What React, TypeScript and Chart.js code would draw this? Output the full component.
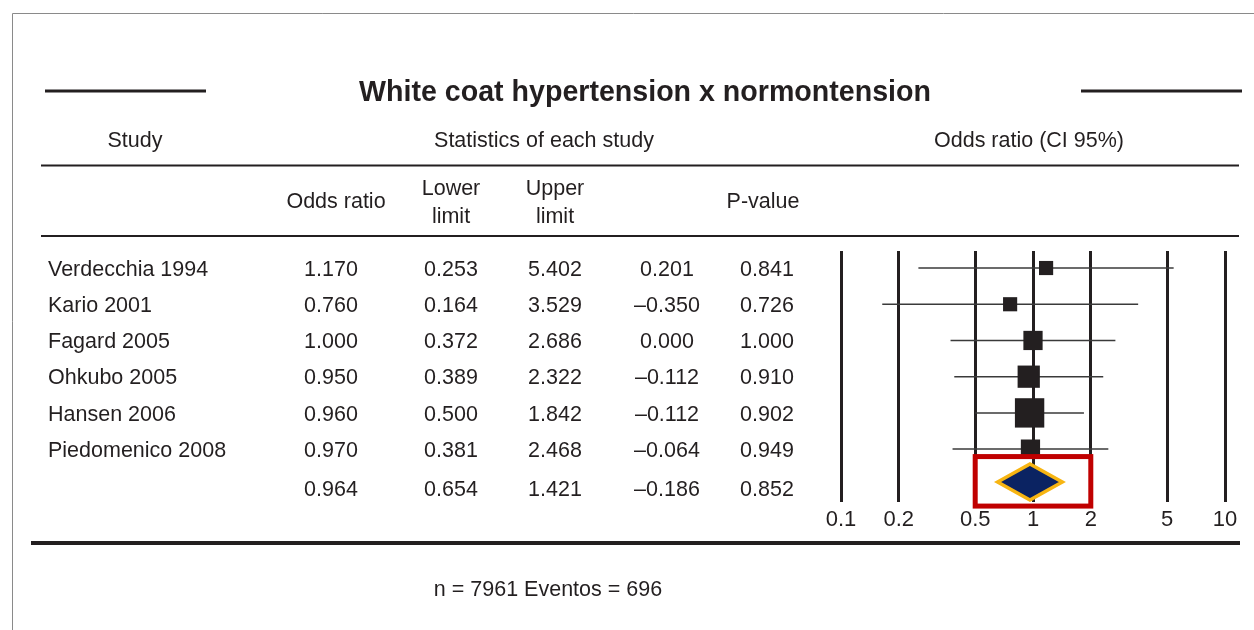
import React, { useEffect, useRef } from "react";
import { Chart, registerables } from "chart.js";

Chart.register(...registerables);

// ---------- data ----------
const studies = [
  "Verdecchia 1994",
  "Kario 2001",
  "Fagard 2005",
  "Ohkubo 2005",
  "Hansen 2006",
  "Piedomenico 2008",
];
const oddsRatio = [1.17, 0.76, 1.0, 0.95, 0.96, 0.97];
const lowerLimit = [0.253, 0.164, 0.372, 0.389, 0.5, 0.381];
const upperLimit = [5.402, 3.529, 2.686, 2.322, 1.842, 2.468];
const zValue = [0.201, -0.35, 0.0, -0.112, -0.112, -0.064];
const pValue = [0.841, 0.726, 1.0, 0.91, 0.902, 0.949];
// relative weights (%) estimated from the square areas
const studyWeight = [8.0, 8.0, 14.8, 19.8, 34.5, 14.8];
const studyRow = [1, 2, 3, 4, 5, 6];

const summaryOddsRatio = 0.964;
const summaryLower = 0.654;
const summaryUpper = 1.421;
const summaryZ = -0.186;
const summaryP = 0.852;
const summaryPlotRow = 6.91;
const summaryTextRow = 7.07;

const axisTicks = [0.1, 0.2, 0.5, 1, 2, 5, 10];
const axisTickLabels = ["0.1", "0.2", "0.5", "1", "2", "5", "10"];

const title = "White coat hypertension x normontension";
const footer = "n = 7961 Eventos = 696";

// ---------- styles ----------
const FONT = "'Liberation Sans', Arial, Helvetica, sans-serif";
const INK = "#231f20";

const fmt = (v: number) => (v < 0 ? "\u2013" + Math.abs(v).toFixed(3) : v.toFixed(3));

const forestPlugin = {
  id: "forestTable",
  beforeDraw(chart: any) {
    const ctx = chart.ctx as CanvasRenderingContext2D;
    const y = chart.scales.y;
    ctx.save();
    // outer frame
    ctx.strokeStyle = "#8a8a8a";
    ctx.lineWidth = 1;
    ctx.beginPath();
    ctx.moveTo(12.5, 630);
    ctx.lineTo(12.5, 13.5);
    ctx.lineTo(1254, 13.5);
    ctx.stroke();

    const hline = (x1: number, x2: number, yy: number, w: number) => {
      ctx.strokeStyle = INK;
      ctx.lineWidth = w;
      ctx.beginPath();
      ctx.moveTo(x1, yy);
      ctx.lineTo(x2, yy);
      ctx.stroke();
    };
    hline(45, 206, 91, 3);
    hline(1081, 1242, 91, 3);
    hline(41, 1239, 165.5, 2);
    hline(41, 1239, 236, 2);
    hline(31, 1240, 543, 4);

    ctx.fillStyle = INK;
    ctx.textBaseline = "alphabetic";
    const t = (s: string, x: number, yy: number, align: CanvasTextAlign, font: string) => {
      ctx.font = font;
      ctx.textAlign = align;
      ctx.fillText(s, x, yy);
    };
    const F = `21.5px ${FONT}`;
    t(title, 645, 101, "center", `bold 28.6px ${FONT}`);
    t("Study", 135, 146.5, "center", F);
    t("Statistics of each study", 544, 146.5, "center", F);
    t("Odds ratio (CI 95%)", 1029, 146.5, "center", F);
    t("Odds ratio", 336, 208, "center", F);
    t("Lower", 451, 195, "center", F);
    t("limit", 451, 223, "center", F);
    t("Upper", 555, 195, "center", F);
    t("limit", 555, 223, "center", F);
    t("P-value", 763, 208, "center", F);

    studies.forEach((name, i) => {
      const yy = y.getPixelForValue(studyRow[i]) + 7.7;
      t(name, 48, yy, "left", F);
      t(fmt(oddsRatio[i]), 331, yy, "center", F);
      t(fmt(lowerLimit[i]), 451, yy, "center", F);
      t(fmt(upperLimit[i]), 555, yy, "center", F);
      t(fmt(zValue[i]), 667, yy, "center", F);
      t(fmt(pValue[i]), 767, yy, "center", F);
    });
    const ys = y.getPixelForValue(summaryTextRow) + 7.7;
    t(fmt(summaryOddsRatio), 331, ys, "center", F);
    t(fmt(summaryLower), 451, ys, "center", F);
    t(fmt(summaryUpper), 555, ys, "center", F);
    t(fmt(summaryZ), 667, ys, "center", F);
    t(fmt(summaryP), 767, ys, "center", F);

    t(footer, 548, 596, "center", F);
    ctx.restore();
  },
  afterDatasetsDraw(chart: any) {
    const ctx = chart.ctx as CanvasRenderingContext2D;
    const x = chart.scales.x;
    const y = chart.scales.y;
    const yc = y.getPixelForValue(summaryPlotRow);
    ctx.save();
    // highlight box around summary
    ctx.strokeStyle = "#c00000";
    ctx.lineWidth = 5;
    const bx1 = x.getPixelForValue(0.5);
    const bx2 = x.getPixelForValue(2);
    ctx.strokeRect(bx1, yc - 25.5, bx2 - bx1, 49.5);
    // summary diamond
    const xl = x.getPixelForValue(summaryLower);
    const xm = x.getPixelForValue(summaryOddsRatio);
    const xr = x.getPixelForValue(summaryUpper);
    ctx.beginPath();
    ctx.moveTo(xl, yc);
    ctx.lineTo(xm, yc - 18);
    ctx.lineTo(xr, yc);
    ctx.lineTo(xm, yc + 18);
    ctx.closePath();
    ctx.fillStyle = "#0b2362";
    ctx.fill();
    ctx.strokeStyle = "#f7b512";
    ctx.lineWidth = 3.5;
    ctx.lineJoin = "miter";
    ctx.stroke();
    ctx.restore();
  },
};

export default function App() {
  const ref = useRef<HTMLCanvasElement | null>(null);

  useEffect(() => {
    if (!ref.current) return;
    const ciDatasets = studies.map((s, i) => ({
      type: "line" as const,
      label: s + " CI",
      data: [
        { x: lowerLimit[i], y: studyRow[i] },
        { x: upperLimit[i], y: studyRow[i] },
      ],
      borderColor: "#3a3a3a",
      borderWidth: 1.5,
      pointRadius: 0,
      showLine: true,
      order: 2,
    }));
    const chart = new Chart(ref.current, {
      type: "scatter",
      data: {
        datasets: [
          ...ciDatasets,
          {
            label: "Odds ratio",
            data: studies.map((_, i) => ({ x: oddsRatio[i], y: studyRow[i] })),
            pointStyle: "rect",
            pointRadius: studyWeight.map((w) => (5 * Math.sqrt(w)) / Math.SQRT2),
            backgroundColor: INK,
            borderWidth: 0,
            order: 1,
          } as any,
        ],
      },
      options: {
        responsive: false,
        animation: false,
        events: [],
        layout: { padding: { left: 841, right: 29, top: 251, bottom: 91.6 } },
        plugins: { legend: { display: false }, tooltip: { enabled: false } },
        scales: {
          x: {
            type: "logarithmic",
            min: 0.1,
            max: 10,
            afterBuildTicks: (scale: any) => {
              scale.ticks = axisTicks.map((v) => ({ value: v }));
            },
            ticks: {
              autoSkip: false,
              maxRotation: 0,
              pads: 0,
              padding: 5,
              color: INK,
              font: { family: FONT, size: 22 },
              callback: (v: any) => {
                const i = axisTicks.indexOf(Number(v));
                return i >= 0 ? axisTickLabels[i] : "";
              },
            },
            grid: { color: INK, lineWidth: 3, drawTicks: false },
            border: { display: false },
          },
          y: {
            display: false,
            reverse: true,
            min: 0.53,
            max: 7.46,
          },
        },
      } as any,
      plugins: [forestPlugin],
    });
    return () => chart.destroy();
  }, []);

  return (
    <div style={{ position: "absolute", left: 0, top: 0, width: 1254, height: 630, background: "#fff" }}>
      <canvas ref={ref} width={1254} height={630} style={{ display: "block" }} />
    </div>
  );
}
